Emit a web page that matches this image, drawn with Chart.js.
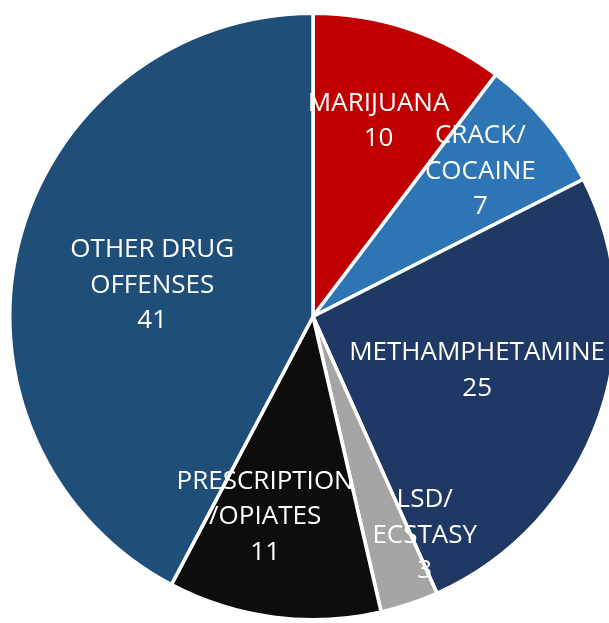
<!DOCTYPE html>
<html>
<head>
<meta charset="utf-8">
<script src="https://cdn.jsdelivr.net/npm/chart.js@4/dist/chart.umd.min.js"></script>
<style>
  html, body { margin: 0; padding: 0; background: #fff; overflow: hidden; }
  #wrap { position: absolute; left: 0; top: 0; width: 618px; height: 623px; }
</style>
</head>
<body>
<div id="wrap"><canvas id="chart-drugs"></canvas></div>
<script>
// 카테고리 / 값
const categories = [
    ['MARIJUANA'],
    ['CRACK/', 'COCAINE'],
    ['METHAMPHETAMINE'],
    ['LSD/', 'ECSTASY'],
    ['PRESCRIPTION', '/OPIATES'],
    ['OTHER DRUG', 'OFFENSES']
];
const offenseCounts = [10, 7, 25, 3, 11, 41];
const sliceColors = ['#C00000', '#2E75B6', '#203864', '#A5A5A5', '#0D0D0D', '#1F4E79'];

// 라벨 위치 보정 (반지름 비율, 각도 보정 deg) - 엑셀 best-fit 흉내
const labelPlacement = [
    { r: 0.68, da: 0 },
    { r: 0.73, da: -1 },
    { r: 0.57, da: -1.2 },
    { r: 0.81, da: -8.5 },
    { r: 0.68, da: 6 },
    { r: 0.54, da: -3 }
];

const sliceLabels = {
    id: 'sliceLabels',
    afterDatasetsDraw(chart) {
        const { ctx } = chart;
        const meta = chart.getDatasetMeta(0);
        ctx.save();
        ctx.fillStyle = '#ffffff';
        ctx.font = "26px 'Open Sans', 'Noto Sans', sans-serif";
        ctx.textAlign = 'center';
        ctx.textBaseline = 'middle';
        const lineH = 35.5;
        meta.data.forEach((arc, i) => {
            const p = arc.getProps(['x', 'y', 'startAngle', 'endAngle', 'outerRadius'], true);
            const place = labelPlacement[i];
            const mid = (p.startAngle + p.endAngle) / 2 + place.da * Math.PI / 180;
            const cx = p.x + Math.cos(mid) * p.outerRadius * place.r;
            const cy = p.y + Math.sin(mid) * p.outerRadius * place.r;
            const lines = [...categories[i], String(offenseCounts[i])];
            const top = cy - (lines.length - 1) * lineH / 2;
            lines.forEach((t, k) => ctx.fillText(t, cx, top + k * lineH));
        });
        ctx.restore();
    }
};

new Chart(document.getElementById('chart-drugs'), {
    type: 'pie',
    data: {
        labels: categories.map(c => c.join(' ')),
        datasets: [{
            data: offenseCounts,
            backgroundColor: sliceColors,
            borderColor: '#ffffff',
            borderWidth: 3.5
        }]
    },
    options: {
        responsive: true,
        maintainAspectRatio: false,
        animation: false,
        layout: { padding: { left: 8, right: 0, top: 10, bottom: 0 } },
        plugins: {
            legend: { display: false },
            tooltip: { enabled: false }
        }
    },
    plugins: [sliceLabels]
});
</script>
</body>
</html>
